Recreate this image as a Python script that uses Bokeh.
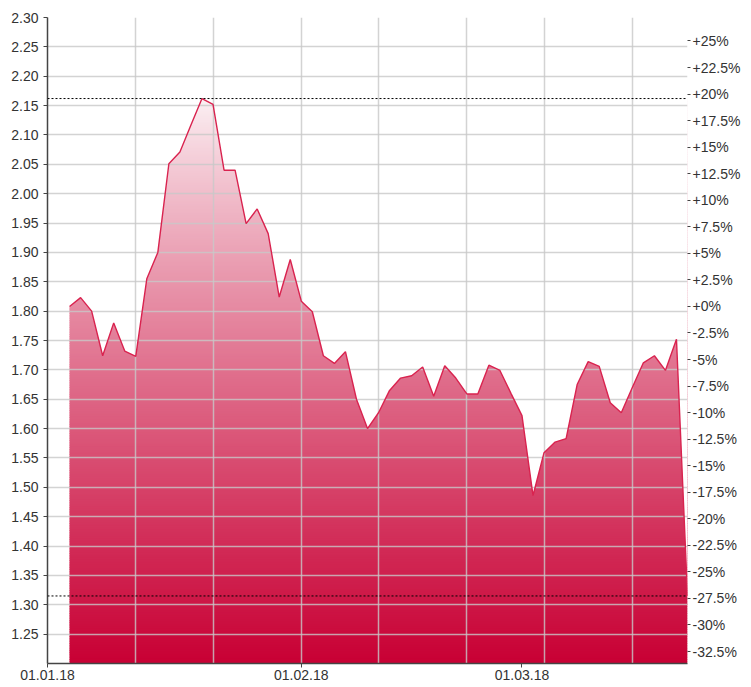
import numpy as np
from bokeh.plotting import figure
from bokeh.models import (Range1d, LinearAxis, FixedTicker, PrintfTickFormatter,
                          CustomJSTickFormatter, Span)
from bokeh.embed import file_html
from bokeh.resources import INLINE

# ---- data (trading-day index since 01.01.18, price) ----
day_index = list(range(2, 59))
prices = [1.808, 1.823, 1.800, 1.724, 1.780, 1.732, 1.723, 1.855, 1.900, 2.051,
          2.071, 2.117, 2.162, 2.152, 2.040, 2.040, 1.949, 1.974, 1.932, 1.824,
          1.888, 1.817, 1.799, 1.724, 1.711, 1.731, 1.650, 1.600, 1.627, 1.665,
          1.686, 1.690, 1.705, 1.655, 1.707, 1.686, 1.659, 1.659, 1.708, 1.699,
          1.660, 1.622, 1.486, 1.559, 1.577, 1.583, 1.675, 1.714, 1.706, 1.644,
          1.627, 1.670, 1.712, 1.724, 1.699, 1.752, 1.315]
month_ticks = [0, 23, 43]
month_labels = ["01.01.18", "01.02.18", "01.03.18"]
grid_days = [8, 15, 23, 30, 38, 45, 53]
y_ticks = [round(1.25 + 0.05 * i, 2) for i in range(22)]
pct_ticks = [round(-32.5 + 2.5 * i, 1) for i in range(24)]
y_lo, y_hi = 1.2, 2.3
x_lo = 0

x = np.array(day_index, dtype=float)
v = np.array(prices)
base = v[0]

FONT = "Liberation Sans"
TXT = "#333333"
AX = "#444444"

p = figure(width=744, height=685, output_backend="svg", toolbar_location=None,
           x_range=Range1d(x_lo, x[-1]), y_range=Range1d(y_lo, y_hi),
           min_border_left=47, min_border_right=57, min_border_top=17,
           min_border_bottom=22)
p.outline_line_color = None
p.background_fill_color = "white"
p.border_fill_color = "white"

# ---- gradient fill under the line ----
n = 320
edges = np.linspace(y_lo, v.max(), n + 1)
step = edges[1] - edges[0]
mid = (edges[:-1] + edges[1:]) / 2
frac = np.clip((v.max() - mid) / (v.max() - y_lo), 0, 1) ** 0.85
top_c = np.array([252, 242, 245])
bot_c = np.array([200, 0, 52])
cols = ["#%02x%02x%02x" % tuple(int(round(c)) for c in (top_c + (bot_c - top_c) * f))
        for f in frac]
r_grad = p.quad(left=x[0], right=x[-1], bottom=edges[:-1], top=edges[1:] + step * 0.6,
                fill_color=cols, line_color=None)
r_grad.level = "image"
# white cover above the series (extended to the left edge of the frame)
cover_x = np.r_[x_lo, x]
cover_y = np.r_[v[0], v]
r_cover = p.varea(x=cover_x, y1=cover_y, y2=y_hi, fill_color="white")
r_cover.level = "image"

# ---- line ----
p.line(x, v, line_color="#d9234f", line_width=1.4)

# ---- max/min dotted lines ----
for loc in (v.max(), v.min()):
    p.add_layout(Span(location=loc, dimension="width", line_color="black",
                      line_width=1, line_dash="2 2"))

# ---- grids ----
p.ygrid.ticker = FixedTicker(ticks=y_ticks)
p.xgrid.ticker = FixedTicker(ticks=grid_days)
for g in (p.xgrid, p.ygrid):
    g.grid_line_color = "#c8c8c8"
    g.grid_line_alpha = 0.8
    g.grid_line_width = 1.5

# ---- left axis ----
ya = p.yaxis[0]
ya.ticker = FixedTicker(ticks=y_ticks)
ya.formatter = PrintfTickFormatter(format="%.2f")
ya.axis_line_color = AX
ya.axis_line_width = 1.5
ya.major_tick_line_color = AX
ya.major_tick_out = 4
ya.major_tick_in = 0
ya.minor_tick_line_color = None
ya.major_label_standoff = 5
ya.major_label_text_font = FONT
ya.major_label_text_font_size = "14px"
ya.major_label_text_color = TXT

# ---- bottom axis ----
xa = p.xaxis[0]
xa.ticker = FixedTicker(ticks=month_ticks)
xa.major_label_overrides = {k: s for k, s in zip(month_ticks, month_labels)}
xa.axis_line_color = AX
xa.axis_line_width = 1.5
xa.major_tick_line_color = AX
xa.major_tick_out = 4
xa.major_tick_in = 0
xa.minor_tick_line_color = None
xa.major_label_standoff = 2
xa.major_label_text_font = FONT
xa.major_label_text_font_size = "14px"
xa.major_label_text_color = TXT

# ---- right percentage axis ----
p.extra_y_ranges = {"pct": Range1d((y_lo / base - 1) * 100, (y_hi / base - 1) * 100)}
ra = LinearAxis(y_range_name="pct", ticker=FixedTicker(ticks=pct_ticks),
                formatter=CustomJSTickFormatter(code="return (tick >= 0 ? '+' : '') + tick + '%';"))
ra.axis_line_color = None
ra.major_tick_line_color = AX
ra.major_tick_out = 3
ra.major_tick_in = 0
ra.minor_tick_line_color = None
ra.major_label_standoff = 2
ra.major_label_text_font = FONT
ra.major_label_text_font_size = "14px"
ra.major_label_text_color = TXT
p.add_layout(ra, "right")

open("out.html", "w").write(file_html(p, INLINE))
